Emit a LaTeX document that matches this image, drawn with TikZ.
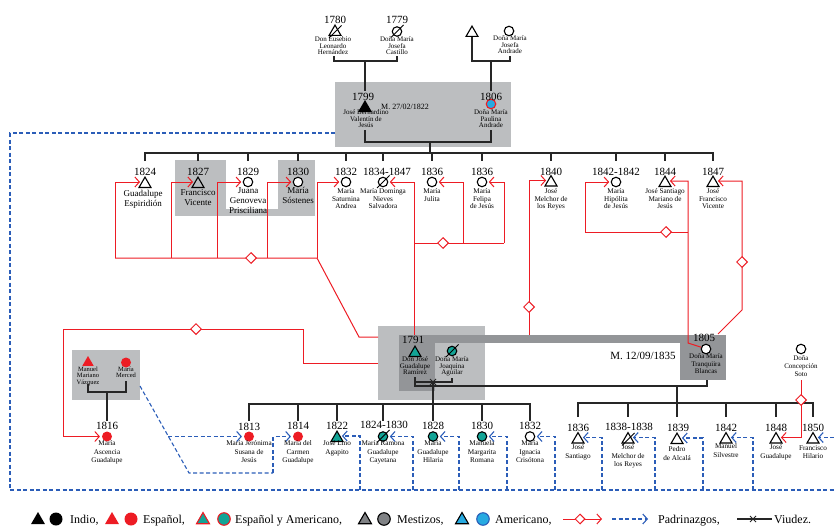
\documentclass[tikz,border=0pt]{standalone}
\usepackage{fontspec}
\setmainfont{Liberation Serif}
\usetikzlibrary{shapes.geometric,arrows.meta}
\definecolor{rd}{HTML}{ED1C24}
\definecolor{tl}{HTML}{12A496}
\definecolor{ab}{HTML}{27AAE1}
\definecolor{bd}{HTML}{2B5DB8}
\definecolor{lg}{HTML}{BCBEC0}
\definecolor{dg}{HTML}{939598}
\definecolor{mz}{HTML}{808285}
\newcommand\strikeit[1]{\draw[line width=0.9pt] ([shift={(-6,6)}]#1.center) -- ([shift={(6.5,-6.5)}]#1.center);}
\begin{document}
\begin{tikzpicture}[x=1pt,y=-1pt,
  tri/.style={regular polygon,regular polygon sides=3,minimum size=13.8pt,inner sep=0pt,draw=black,line width=1.1pt},
  cir/.style={circle,minimum size=9.5pt,inner sep=0pt,draw=black,line width=1.1pt},
  yr/.style={font=\fontsize{11}{11}\selectfont,inner sep=0pt},
  nm/.style={font=\fontsize{7.2}{7.4}\selectfont,align=center,inner sep=0pt,anchor=north},
  nmt/.style={font=\fontsize{7}{6.7}\selectfont,align=center,inner sep=0pt,anchor=north},
  nmb/.style={font=\fontsize{9}{9.8}\selectfont,align=center,inner sep=0pt,anchor=north},
  nm3/.style={font=\fontsize{7.2}{8.4}\selectfont,align=center,inner sep=0pt,anchor=north},
  lgt/.style={font=\fontsize{12}{12}\selectfont,inner sep=0pt,anchor=base west},
  kin/.style={draw=black!85,line width=1.1pt},
  pad/.style={draw=rd,line width=1pt},
  parr/.style={pad,-{Straight Barb[length=4.5pt,width=10pt]},shorten >=1.5pt},
  dia/.style={diamond,draw=rd,fill=white,minimum size=11pt,inner sep=0pt,line width=1pt},
  bl/.style={draw=bd,line width=1.1pt,dash pattern=on 4pt off 2.5pt},
  barr/.style={bl,-{Straight Barb[length=4.5pt,width=10pt]},shorten >=1.5pt}]
\useasboundingbox (0,0) rectangle (834,527);
% ---------- background boxes
\fill[lg] (335,82) rectangle (511,147);
\fill[lg] (175,160) rectangle (315,216);
\fill[white] (226,158) rectangle (278,209);
\fill[lg] (72,350) rectangle (140,400);
\fill[lg] (378,326) rectangle (485,400);
\fill[dg] (399,335) rectangle (726,343);
\fill[dg] (399,335) rectangle (435,391);
\fill[dg] (680,335) rectangle (726,380);
% ---------- symbols: top generation
\node[tri] (t1780) at (335,32) {};
\node[cir] (c1779) at (397,31.5) {};
\node[tri] (tpat) at (472,33) {};
\node[cir] (candr) at (509,31) {};
\node[tri,fill=black] (t1799) at (365,108) {};
\node[cir,fill=ab,draw=rd] (c1806) at (491,104) {};
% ---------- symbols: children of 1822
\node[tri] (t1824) at (145,184) {};
\node[tri] (t1827) at (198,184) {};
\node[cir] (c1829) at (248,182) {};
\node[cir,fill=white] (c1830) at (298,182) {};
\node[cir] (c1832) at (346,182) {};
\node[cir] (c1834) at (383,182) {};
\node[cir] (c1836a) at (432,182) {};
\node[cir] (c1836b) at (482,182) {};
\node[tri] (t1840) at (551,182.5) {};
\node[cir] (c1842) at (616,182) {};
\node[tri] (t1844) at (665,183) {};
\node[tri] (t1847) at (713,183) {};
% ---------- symbols: middle
\node[tri,fill=rd,draw=none,minimum size=13pt] (tman) at (88,362.5) {};
\node[cir,fill=rd,draw=none,minimum size=10pt] (cmer) at (126,362.5) {};
\node[tri,fill=tl] (t1791) at (415,353) {};
\node[cir,fill=tl] (cjoa) at (452,351) {};
\node[cir,fill=white] (c1805) at (706,349) {};
\node[cir] (csoto) at (801,349) {};
% ---------- symbols: bottom generation
\node[cir,fill=rd,draw=none,minimum size=10pt] (c1816) at (107,436.5) {};
\node[cir,fill=rd,draw=none,minimum size=10pt] (c1813) at (249,436.5) {};
\node[cir,fill=rd,draw=none,minimum size=10pt] (c1814) at (298,436.5) {};
\node[tri,fill=tl] (t1822) at (337,438) {};
\node[cir,fill=tl] (c1824b) at (383,436.5) {};
\node[cir,fill=tl] (c1828) at (433,436.5) {};
\node[cir,fill=tl] (c1830b) at (482,436.5) {};
\node[cir] (c1832b) at (530,436.5) {};
\node[tri] (t1836) at (578,439.5) {};
\node[tri] (t1838) at (628,439.5) {};
\node[tri] (t1839) at (677,440) {};
\node[tri] (t1842) at (726,439.5) {};
\node[tri] (t1848) at (776,439.5) {};
\node[tri] (t1850) at (813,439.5) {};
% strike-outs
\strikeit{t1780}
\strikeit{c1779}
\strikeit{c1834}
\strikeit{cjoa}
\strikeit{c1824b}
\strikeit{t1838}
% ---------- kinship lines
\draw[kin] (334,56) |- (397,61) -- (397,56);
\draw[kin] (365,61) -- (365,91);
\draw[kin] (tpat.south) |- (510,61) -- (510,56);
\draw[kin] (491,61) -- (491,91);
\draw[kin] (365,130) |- (491,142) -- (491,130);
\draw[kin] (430,142) -- (430,153);
\draw[kin] (145,161) |- (713,153) -- (713,161);
\draw[kin] (198,153) -- (198,161) (248,153) -- (248,161) (298,153) -- (298,161)
  (346,153) -- (346,161) (383,153) -- (383,161) (432,153) -- (432,161)
  (482,153) -- (482,161) (551,153) -- (551,161) (616,153) -- (616,161) (665,153) -- (665,161);
\draw[kin] (88,384) |- (126,392) -- (126,381);
\draw[kin] (107,392) -- (107,421);
\draw[kin] (415,377) -- (415,386) -| (707,380);
\draw[kin] (415,382) -- (452,382) -- (452,378);
\draw[kin,line width=0.8pt] (430,379) -- (436,385) (430,385) -- (436,379);
\draw[kin] (433,382) -- (433,421);
\draw[kin] (677,386) -- (677,417);
\draw[kin] (249,421) |- (530,404) -- (530,421);
\draw[kin] (298,404) -- (298,421) (337,404) -- (337,421) (383,404) -- (383,421) (482,404) -- (482,421);
\draw[kin] (578,417) |- (813,403) -- (813,417);
\draw[kin] (628,403) -- (628,417) (726,403) -- (726,417) (776,403) -- (776,417);
% ---------- padrinazgos (red)
\draw[pad] (378,337) -- (359,337) -- (317,258) -- (115,258);
\draw[parr] (115,258) |- (t1824.side 1);
\draw[parr] (171,258) |- (t1827.side 1);
\draw[parr] (217,258) |- (c1829.west);
\draw[parr] (267,258) |- (c1830.west);
\draw[parr] (317,258) |- (c1832.west);
\node[dia] (d1) at (251,258) {};
\draw[pad] (378,363) -- (303,363) -- (303,329) -- (63,329);
\draw[parr] (63,329) |- (c1816.west);
\node[dia] (d2) at (196,329) {};
\draw[parr] (414,335) |- (c1834.east);
\draw[pad] (414,243) -- (504,243);
\draw[parr] (463,243) |- (c1836a.east);
\draw[parr] (504,243) |- (c1836b.east);
\node[dia] (d3) at (443,243) {};
\draw[parr] (529,335) |- (t1840.side 1);
\node[dia] (d4) at (529,307) {};
\draw[parr] (c1805.160) -- (688,343) |- (t1844.side 3);
\draw[parr] (688,232) -- (585,232) |- (c1842.west);
\node[dia] (d5) at (666,232) {};
\draw[parr] (718,334) -- (742,310) |- (t1847.side 3);
\node[dia] (d6) at (742,262) {};
\draw[parr] (801,380) |- (t1848.side 3);
\node[dia] (d7) at (801,400) {};
% ---------- padrinazgos (blue)
\draw[bl] (335,133) -- (10,133) -- (10,490) -- (834,490);
\draw[bl] (140,386) -- (189,473) -- (273,473);
\draw[barr] (168,436.5) -- (c1813.west);
\draw[barr] (273,473) |- (c1814.west);
\draw[barr] (360,490) |- (t1822.side 3);
\draw[barr] (413,490) |- (c1824b.east);
\draw[barr] (459,490) |- (c1828.east);
\draw[barr] (507,490) |- (c1830b.east);
\draw[barr] (555,490) |- (c1832b.east);
\draw[barr] (602,490) |- (t1836.side 3);
\draw[barr] (655,490) |- (t1838.side 3);
\draw[barr] (703,490) |- (t1839.side 3);
\draw[barr] (753,490) |- (t1842.side 3);
\draw[barr] (t1850.side 3 -| 834,0) -- (t1850.side 3);
% ---------- years
\node[yr] at (335,20) {1780};
\node[yr] at (397,20) {1779};
\node[yr] at (363,97) {1799};
\node[yr] at (491,97) {1806};
\node[yr] at (145,172) {1824};
\node[yr] at (198,172) {1827};
\node[yr] at (248,172) {1829};
\node[yr] at (298,172) {1830};
\node[yr] at (346,172) {1832};
\node[yr] at (387,172) {1834-1847};
\node[yr] at (432,172) {1836};
\node[yr] at (482,172) {1836};
\node[yr] at (551,172) {1840};
\node[yr] at (616,172) {1842-1842};
\node[yr] at (665,172) {1844};
\node[yr] at (713,172) {1847};
\node[yr] at (413,340) {1791};
\node[yr] at (704,338) {1805};
\node[yr] at (107,426) {1816};
\node[yr] at (249,427) {1813};
\node[yr] at (298,426) {1814};
\node[yr] at (337,426) {1822};
\node[yr] at (384,425) {1824-1830};
\node[yr] at (433,426) {1828};
\node[yr] at (482,426) {1830};
\node[yr] at (530,426) {1832};
\node[yr] at (578,428) {1836};
\node[yr] at (629,427) {1838-1838};
\node[yr] at (678,428) {1839};
\node[yr] at (726,428) {1842};
\node[yr] at (776,428) {1848};
\node[yr] at (813,428) {1850};
% ---------- names
\node[nmt] at (333,36.5) {Don Eusebio\\Leonardo\\Hernández};
\node[nmt] at (397,36.5) {Doña María\\Josefa\\Castillo};
\node[nmt] at (510,35.5) {Doña María\\Josefa\\Andrade};
\node[nmt] at (366,109.5) {José Bernardino\\Valentín de\\Jesús};
\node[nmt] at (491,109.5) {Doña María\\Paulina\\Andrade};
\node[font=\fontsize{8}{8}\selectfont,inner sep=0pt] at (405,107) {M. 27/02/1822};
\node[nmb] at (143,190) {Guadalupe\\Espiridión};
\node[nmb] at (198,189.5) {Francisco\\Vicente};
\node[nmb] at (248,187.5) {Juana\\Genoveva\\Prisciliana};
\node[nmb] at (298,187.5) {María\\Sóstenes};
\node[nm] at (346,188.5) {María\\Saturnina\\Andrea};
\node[nm] at (383,188.5) {María Dominga\\Nieves\\Salvadora};
\node[nm] at (432,188.5) {María\\Julita};
\node[nm] at (482,188.5) {María\\Felipa\\de Jesús};
\node[nm] at (551,188.5) {José\\Melchor de\\los Reyes};
\node[nm] at (616,188.5) {María\\Hipólita\\de Jesús};
\node[nm] at (665,188.5) {José Santiago\\Mariano de\\Jesús};
\node[nm] at (713,188.5) {José\\Francisco\\Vicente};
\node[font=\fontsize{6.5}{6.6}\selectfont,align=center,inner sep=0pt,anchor=north] at (88,366.5) {Manuel\\Mariano\\Vázquez};
\node[font=\fontsize{6.5}{6.6}\selectfont,align=center,inner sep=0pt,anchor=north] at (126,366.5) {María\\Merced};
\node[font=\fontsize{7}{6.5}\selectfont,align=center,inner sep=0pt,anchor=north] at (415,356.5) {Don José\\Guadalupe\\Ramírez};
\node[font=\fontsize{7}{6.5}\selectfont,align=center,inner sep=0pt,anchor=north] at (452,356.5) {Doña María\\Joaquina\\Aguilar};
\node[font=\fontsize{7}{7.5}\selectfont,align=center,inner sep=0pt,anchor=north] at (706,353.5) {Doña María\\Tranquiira\\Blancas};
\node[font=\fontsize{11}{11}\selectfont,inner sep=0pt] at (643,356) {M. 12/09/1835};
\node[font=\fontsize{7}{8}\selectfont,align=center,inner sep=0pt,anchor=north] at (801,355.5) {Doña\\Concepción\\Soto};
\node[nm3] at (107,440.5) {María\\Ascencia\\Guadalupe};
\node[nm3] at (249,440.5) {María Jerónima\\Susana de\\Jesús};
\node[nm3] at (298,440.5) {María del\\Carmen\\Guadalupe};
\node[nm3] at (337,440.5) {José Lino\\Agapito};
\node[nm3] at (383,440.5) {María Ramona\\Guadalupe\\Cayetana};
\node[nm3] at (433,440.5) {María\\Guadalupe\\Hilaria};
\node[nm3] at (482,440.5) {Manuela\\Margarita\\Romana};
\node[nm3] at (530,440.5) {María\\Ignacia\\Crisótona};
\node[nm3] at (578,444.5) {José\\Santiago};
\node[nm3] at (628,444.5) {José\\Melchor de\\los Reyes};
\node[nm3] at (677,446.5) {Pedro\\de Alcalá};
\node[nm3] at (726,443.5) {Manuel\\Silvestre};
\node[nm3] at (776,444.5) {José\\Guadalupe};
\node[nm3] at (813,445.5) {Francisco\\Hilario};
% ---------- legend
\node[tri,fill=black,draw=none,minimum size=16pt] (l1) at (38,520) {};
\node[cir,fill=black,draw=none,minimum size=13pt] (l2) at (56,519) {};
\node[lgt] at (70,523) {Indio,};
\node[tri,fill=rd,draw=none,minimum size=16pt] (l3) at (112,520) {};
\node[cir,fill=rd,draw=none,minimum size=13pt] (l4) at (131,519) {};
\node[lgt] at (143,523) {Español,};
\node[tri,fill=tl,draw=rd,minimum size=15pt] (l5) at (203,520) {};
\node[cir,fill=tl,draw=rd,minimum size=12.5pt] (l6) at (224,519) {};
\node[lgt] at (235,523) {Español y Americano,};
\node[tri,fill=mz,minimum size=15pt] (l7) at (365,520) {};
\node[cir,fill=mz,minimum size=12.5pt] (l8) at (384,519) {};
\node[lgt] at (397,523) {Mestizos,};
\node[tri,fill=ab,minimum size=15pt] (l9) at (462,520) {};
\node[cir,fill=ab,draw=bd,minimum size=12.5pt] (l10) at (483,519) {};
\node[lgt] at (495,523) {Americano,};
\coordinate (lr1) at (563,519);
\coordinate (lr2) at (602,519);
\draw[parr,shorten >=0pt] (lr1) -- (lr2);
\node[dia,minimum size=10pt] (ld) at (580,519) {};
\coordinate (lb1) at (612,519);
\coordinate (lb2) at (648,519);
\draw[barr,shorten >=0pt] (lb1) -- (lb2);
\node[lgt] at (658,523) {Padrinazgos,};
\coordinate (lv1) at (737,519);
\coordinate (lv2) at (772,519);
\draw[kin] (lv1) -- (lv2);
\draw[kin,line width=0.8pt] (750,516) -- (756,522) (750,522) -- (756,516);
\node[lgt] at (774,523) {Viudez.};
\end{tikzpicture}
\end{document}
